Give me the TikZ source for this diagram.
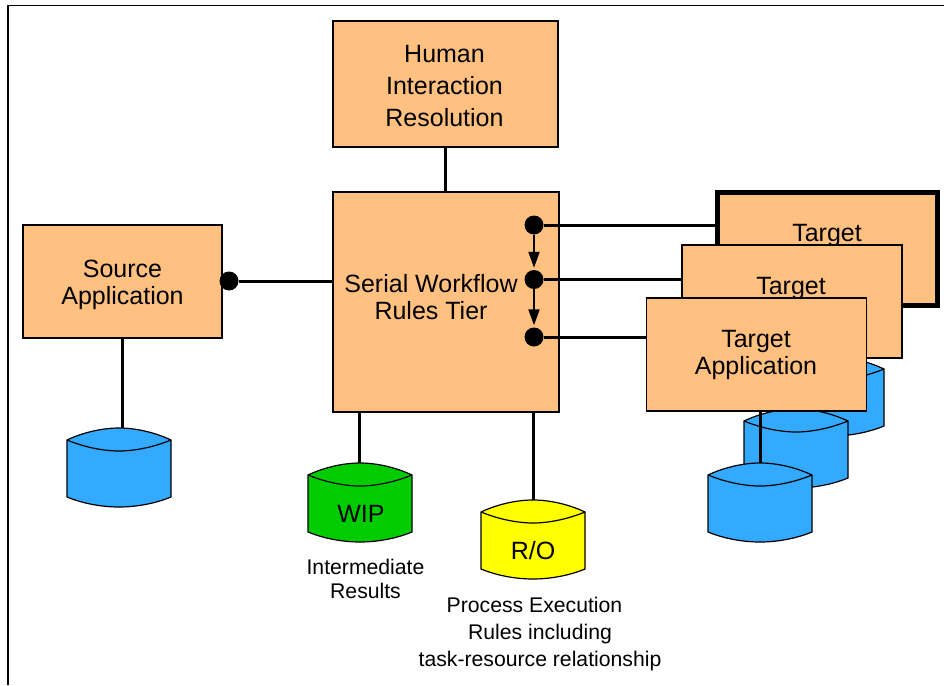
\documentclass[tikz,border=0pt]{standalone}
\usepackage{fontspec}
\setmainfont{Liberation Sans}
\usetikzlibrary{arrows.meta}
\definecolor{boxfill}{RGB}{255,192,128}
\definecolor{dbblue}{RGB}{51,170,255}
\definecolor{dbgreen}{RGB}{0,204,0}
\definecolor{dbyellow}{RGB}{255,255,0}
\def\boxfont{\fontsize{25}{27}\selectfont}
\def\capfont{\fontsize{21.2}{27}\selectfont}

% name, centre x, top y, fill, text
\newcommand{\drum}[5]{
	\path[draw=black,line width=1.2pt,fill=#4,shift={(#2,#3)}]
	(-52,12) .. controls (-35,4) and (-16,0) .. (0,0) .. controls (16,0) and (35,4) .. (52,12)
	-- (52,69) .. controls (35,76) and (16,79) .. (0,79) .. controls (-16,79) and (-35,76) .. (-52,69) -- cycle;
	\path[draw=black,line width=1.2pt,shift={(#2,#3)}]
	(-52,12) .. controls (-35,19) and (-16,23) .. (0,23) .. controls (16,23) and (35,19) .. (52,12);
	\node[drum box,label={[yshift=-11pt]center:#5}] (#1) at (#2,#3+39.5) {};
}

\begin{document}
\begin{tikzpicture}[x=1pt,y=-1pt,font=\boxfont]
	\tikzstyle{app box}=[rectangle,draw=black,line width=1.5pt,fill=boxfill,inner sep=0pt,outer sep=0pt]
	\tikzstyle{box text}=[align=center]
	\tikzstyle{drum box}=[rectangle,minimum width=104pt,minimum height=79pt,inner sep=0pt,outer sep=0pt]
	\tikzstyle{dot}=[circle,fill=black,minimum size=19pt,inner sep=0pt]
	\tikzstyle{link}=[draw=black,line width=3pt]
	\tikzstyle{step arrow}=[draw=black,line width=2pt,-{Triangle[length=16pt,width=11pt]},shorten >=2pt]
	\tikzstyle{annot}=[font=\capfont,align=center,inner sep=0pt]

	\useasboundingbox (0,0) rectangle (944,685);
	\draw[line width=1.4pt] (944,5.5) -- (8,5.5) -- (8,685);

	% Draw the data stores, the ones further back first
	\drum{Cyl-3}{832}{357}{dbblue}{}
	\drum{Cyl-2}{796}{409}{dbblue}{}
	\drum{Cyl-1}{760}{463}{dbblue}{}
	\drum{Cyl-S}{119}{428}{dbblue}{}
	\drum{Wip}{360}{463}{dbgreen}{\hspace*{2pt}WIP}
	\drum{Ro}{533}{500}{dbyellow}{R/O}

	% Draw the boxes
	\node[app box,minimum width=225pt,minimum height=126pt,label={[box text,xshift=-1pt,yshift=-2pt]center:Human\\[5pt]Interaction\\[5pt]Resolution}] (Human) at (445.5,84) {};
	\node[app box,minimum width=226pt,minimum height=220pt,label={[box text,xshift=-15pt,yshift=4.5pt]center:Serial Workflow\\Rules Tier}] (Tier) at (446,302) {};
	\node[app box,minimum width=199pt,minimum height=113pt,label={[box text,yshift=-3pt]center:Source\\Application}] (Source) at (122.5,281.5) {};
	\node[app box,line width=4.7pt,minimum width=219.5pt,minimum height=113pt,label={[xshift=-0.5pt,yshift=14pt]center:Target}] (Tgt-1) at (827.5,249) {};
	\node[app box,minimum width=220pt,minimum height=113pt,label={[xshift=-1pt,yshift=13.5pt]center:Target}] (Tgt-2) at (792,301.5) {};
	\node[app box,minimum width=220pt,minimum height=113pt,label={[box text,xshift=-0.5pt]center:Target\\Application}] (Tgt-3) at (756.5,354.5) {};

	% Draw the junction dots
	\node[dot] (SrcDot) at (229,281) {};
	\foreach \name / \y in {1/225,2/279.5,3/337}
	\node[dot] (Dot-\name) at (534,\y) {};

	% Connect the boxes and the stores
	\path[link] (Human.south) -- (Human.south |- Tier.north);
	\path[link] (SrcDot) -- (SrcDot -| Tier.west);
	\path[link] (Source.south) -- (Source.south |- Cyl-S.north);
	\path[link] ([xshift=-1pt]Wip.north |- Tier.south) -- ([xshift=-1pt]Wip.north);
	\path[link] (Ro.north |- Tier.south) -- (Ro.north);
	\path[link] (Cyl-1.north |- Tgt-3.south) -- (Cyl-1.north);

	\foreach \name in {1,2,3}
	\path[link] (Dot-\name) -- (Dot-\name -| Tgt-\name.west);

	\path[step arrow] (Dot-1) -- (Dot-2);
	\path[step arrow] (Dot-2) -- (Dot-3);

	% Annotate the stores
	\node[annot] (WipNote) at (365.5,579) {Intermediate\\[-3pt]Results};
	\node[annot] (RoNote) at (540,634) {Process Execution\hspace*{11pt}\\Rules including\hspace*{6pt}\\task-resource relationship};
\end{tikzpicture}
\end{document}
